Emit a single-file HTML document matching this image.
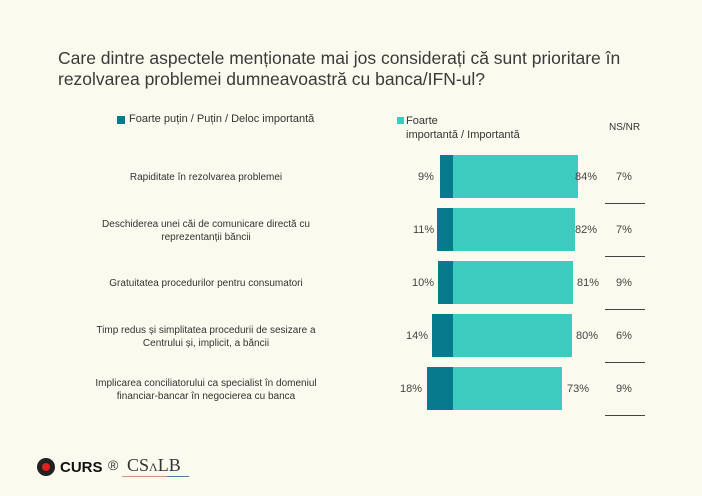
<!DOCTYPE html>
<html><head><meta charset="utf-8"><style>
body{margin:0;width:702px;height:496px;background:#fafaee;font-family:"Liberation Sans",sans-serif;position:relative;overflow:hidden;color:#333}
.a{position:absolute}
.t{left:58px;top:48px;font-size:17.5px;line-height:21px;color:#3a3a3a}
.lab{position:absolute;width:340px;left:36px;text-align:center;font-size:10px;line-height:13px;color:#333}
.pct{position:absolute;font-size:11px;color:#444}
.d{position:absolute;background:#077a8e;height:43px}
.l{position:absolute;background:#3dcabf;height:43px}
.ln{position:absolute;left:605px;width:40px;height:1px;background:#444}
</style></head><body>
<div class="a t">Care dintre aspectele menționate mai jos considerați că sunt prioritare în<br>rezolvarea problemei dumneavoastră cu banca/IFN-ul?</div>
<div class="a" style="left:117px;top:116px;width:8px;height:8px;background:#077a8e"></div>
<div class="a" style="left:129px;top:113px;font-size:11px;color:#333">Foarte puțin  / Puțin / Deloc importantă</div>
<div class="a" style="left:397px;top:117px;width:7px;height:7px;background:#3dcabf"></div>
<div class="a" style="left:406px;top:114px;font-size:11px;line-height:14px;color:#333">Foarte<br>importantă / Importantă</div>
<div class="a" style="left:609px;top:122px;font-size:10px;color:#333">NS/NR</div>

<div class="lab" style="top:171px">Rapiditate în rezolvarea problemei</div>
<div class="lab" style="top:218px">Deschiderea unei căi de comunicare directă cu<br>reprezentanții băncii</div>
<div class="lab" style="top:277px">Gratuitatea procedurilor pentru consumatori</div>
<div class="lab" style="top:324px">Timp redus și simplitatea procedurii de sesizare a<br>Centrului și, implicit, a băncii</div>
<div class="lab" style="top:377px">Implicarea conciliatorului ca specialist în domeniul<br>financiar-bancar în negocierea cu banca</div>

<div class="d" style="left:440px;top:155px;width:13px"></div><div class="l" style="left:453px;top:155px;width:125px"></div>
<div class="d" style="left:437px;top:208px;width:16px"></div><div class="l" style="left:453px;top:208px;width:122px"></div>
<div class="d" style="left:438px;top:261px;width:15px"></div><div class="l" style="left:453px;top:261px;width:120px"></div>
<div class="d" style="left:432px;top:314px;width:21px"></div><div class="l" style="left:453px;top:314px;width:119px"></div>
<div class="d" style="left:427px;top:367px;width:26px"></div><div class="l" style="left:453px;top:367px;width:109px"></div>

<div class="pct" style="left:418px;top:171px">9%</div><div class="pct" style="left:575px;top:171px">84%</div><div class="pct" style="left:616px;top:171px">7%</div>
<div class="pct" style="left:413px;top:224px">11%</div><div class="pct" style="left:575px;top:224px">82%</div><div class="pct" style="left:616px;top:224px">7%</div>
<div class="pct" style="left:412px;top:277px">10%</div><div class="pct" style="left:577px;top:277px">81%</div><div class="pct" style="left:616px;top:277px">9%</div>
<div class="pct" style="left:406px;top:330px">14%</div><div class="pct" style="left:576px;top:330px">80%</div><div class="pct" style="left:616px;top:330px">6%</div>
<div class="pct" style="left:400px;top:383px">18%</div><div class="pct" style="left:567px;top:383px">73%</div><div class="pct" style="left:616px;top:383px">9%</div>

<div class="ln" style="top:203px"></div><div class="ln" style="top:256px"></div><div class="ln" style="top:309px"></div><div class="ln" style="top:362px"></div><div class="ln" style="top:415px"></div>

<div class="a" style="left:37px;top:458px;width:18px;height:18px;border-radius:50%;background:#222"></div>
<div class="a" style="left:42px;top:463px;width:8px;height:8px;border-radius:50%;background:#d22"></div>
<div class="a" style="left:60px;top:459px;font-size:15px;font-weight:bold;color:#111">CURS</div>
<div class="a" style="left:108px;top:457px;font-size:14px;color:#333">®</div>
<div class="a" style="left:127px;top:455px;font-size:18px;font-family:'Liberation Serif',serif;color:#333">CS<span style="font-size:12px">Λ</span>LB</div>
<div class="a" style="left:122px;top:476px;width:45px;height:1px;background:#c97"></div>
<div class="a" style="left:167px;top:476px;width:22px;height:1px;background:#579"></div>
</body></html>
